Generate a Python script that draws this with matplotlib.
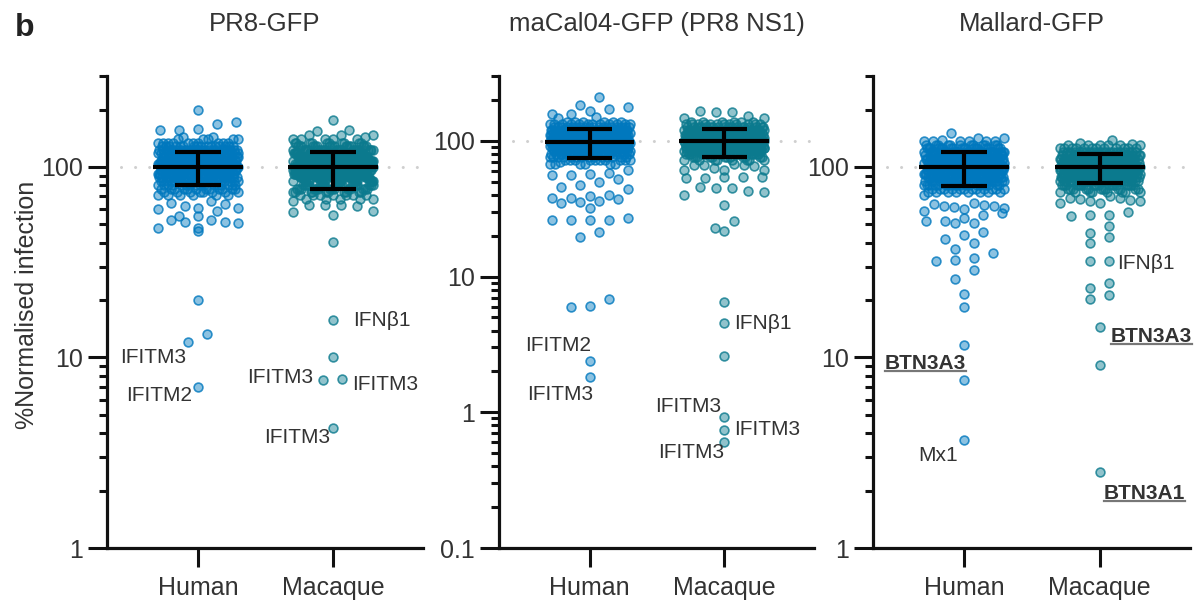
from math import gcd

import numpy as np
import matplotlib
matplotlib.use('Agg')
from matplotlib import pyplot as plt
from matplotlib.lines import Line2D
from matplotlib.ticker import FixedLocator, LogLocator, NullFormatter, FuncFormatter

plt.rcParams['font.family'] = ['Liberation Sans', 'DejaVu Sans']

species = ['Human', 'Macaque']
titles = ['PR8-GFP', 'maCal04-GFP (PR8 NS1)', 'Mallard-GFP']

# --- PR8-GFP screen: dense core as (level, count) plus the individually visible hits
pr8_human_levels = [140, 134, 128, 123, 118, 113, 108, 104, 100, 96, 92, 88, 84, 80, 77, 74, 71]
pr8_human_counts = [5, 10, 16, 22, 26, 30, 32, 34, 34, 32, 30, 26, 22, 16, 12, 8, 6]
pr8_human_tail = [198, 173, 168, 158, 156, 156, 144, 143, 66, 65, 64, 62, 61, 61, 60, 59,
                  55, 55, 52.5, 52.5, 51.5, 51.5, 51, 48, 48, 46, 20, 13.3, 12.0, 7.0]
pr8_macaque_levels = [140, 134, 128, 123, 118, 113, 108, 104, 100, 96, 92, 88, 84, 80, 77, 74, 71, 68]
pr8_macaque_counts = [5, 10, 16, 22, 26, 30, 32, 34, 34, 32, 30, 26, 22, 18, 14, 10, 7, 5]
pr8_macaque_tail = [176, 156, 154, 147, 147, 147, 144, 66, 63, 63, 63, 62, 59, 58, 56,
                    40.5, 15.7, 10.0, 7.7, 7.6, 4.25]
pr8_median = [100, 100]
pr8_lower = [80, 77]
pr8_upper = [120, 120]
pr8_label_group = [0, 0, 1, 1, 1, 1]
pr8_label_value = [12.0, 7.0, 15.7, 7.6, 7.7, 4.25]
pr8_label_gene = ['IFITM3', 'IFITM2', 'IFNβ1', 'IFITM3', 'IFITM3', 'IFITM3']

# --- maCal04-GFP (PR8 NS1) screen
macal_human_levels = [138, 132, 126, 120, 115, 110, 105, 100, 96, 92, 88, 84, 80, 76, 72, 68]
macal_human_counts = [6, 12, 18, 24, 28, 30, 32, 34, 32, 30, 26, 22, 18, 14, 10, 6]
macal_human_tail = [210, 183, 176, 171, 165, 157, 157, 150, 148, 70, 61, 58, 57, 56, 56, 52,
                    50, 47, 46, 44, 40, 39, 38, 38, 37.5, 36, 35.5, 35, 32, 27, 26, 26, 26,
                    26, 21.4, 19.4, 6.8, 6.1, 5.96, 2.37, 1.81]
macal_macaque_levels = [138, 132, 126, 120, 115, 110, 105, 100, 96, 92, 88, 84, 80, 76, 72]
macal_macaque_counts = [6, 12, 18, 24, 28, 30, 32, 34, 32, 30, 26, 22, 18, 12, 8]
macal_macaque_tail = [166, 162, 162, 152, 146, 146, 67, 66, 66, 66, 65, 63, 61, 61, 61, 54,
                      54, 54, 53.5, 53, 45.4, 45, 45, 43, 42, 40, 33.7, 25.7, 22.7, 21.8,
                      6.44, 4.54, 2.61, 0.93, 0.746, 0.60]
macal_median = [98, 99]
macal_lower = [75, 76]
macal_upper = [123, 123]
macal_label_group = [0, 0, 1, 1, 1, 1]
macal_label_value = [2.37, 1.81, 4.54, 0.93, 0.746, 0.60]
macal_label_gene = ['IFITM2', 'IFITM3', 'IFNβ1', 'IFITM3', 'IFITM3', 'IFITM3']

# --- Mallard-GFP screen
mallard_human_levels = [136, 130, 125, 120, 115, 110, 105, 100, 96, 92, 88, 84, 80, 77, 74]
mallard_human_counts = [6, 12, 18, 24, 28, 30, 32, 34, 32, 30, 26, 22, 18, 12, 8]
mallard_human_tail = [150, 142, 141, 139, 71, 65, 64, 63, 62, 62, 61.5, 61, 60, 58.5, 57, 56,
                      54, 52, 52, 51, 51, 45.4, 43.8, 42, 40, 37, 35.4, 33.3, 32.4, 32, 28.6,
                      25.8, 21.4, 18.4, 11.6, 7.6, 3.7]
mallard_macaque_levels = [130, 125, 120, 115, 110, 105, 100, 96, 92, 88, 84, 80, 77, 74]
mallard_macaque_counts = [6, 12, 20, 26, 30, 32, 34, 34, 32, 28, 24, 18, 12, 8]
mallard_macaque_tail = [138, 133, 132, 70, 69, 69, 68, 67, 66, 66, 65, 65, 58, 56, 56, 55,
                        49, 45, 43, 40, 32.2, 31.9, 24.6, 23.2, 21.3, 20.3, 14.5, 9.1, 2.52]
mallard_median = [100, 100]
mallard_lower = [79, 82]
mallard_upper = [120, 117]
mallard_label_group = [0, 0, 1, 1, 1]
mallard_label_value = [7.6, 3.7, 32.2, 14.5, 2.52]
mallard_label_gene = ['BTN3A3', 'Mx1', 'IFNβ1', 'BTN3A3', 'BTN3A1']

panels = [
    dict(groups=[(pr8_human_levels, pr8_human_counts, pr8_human_tail),
                 (pr8_macaque_levels, pr8_macaque_counts, pr8_macaque_tail)],
         median=pr8_median, lower=pr8_lower, upper=pr8_upper,
         lab_group=pr8_label_group, lab_value=pr8_label_value, lab_gene=pr8_label_gene,
         yticks=[1, 10, 100], ylim=(1, 300)),
    dict(groups=[(macal_human_levels, macal_human_counts, macal_human_tail),
                 (macal_macaque_levels, macal_macaque_counts, macal_macaque_tail)],
         median=macal_median, lower=macal_lower, upper=macal_upper,
         lab_group=macal_label_group, lab_value=macal_label_value, lab_gene=macal_label_gene,
         yticks=[0.1, 1, 10, 100], ylim=(0.1, 300)),
    dict(groups=[(mallard_human_levels, mallard_human_counts, mallard_human_tail),
                 (mallard_macaque_levels, mallard_macaque_counts, mallard_macaque_tail)],
         median=mallard_median, lower=mallard_lower, upper=mallard_upper,
         lab_group=mallard_label_group, lab_value=mallard_label_value, lab_gene=mallard_label_gene,
         yticks=[1, 10, 100], ylim=(1, 300)),
]

# label placement: (dx px, dy px, ha, bold+underline)
label_layout = [
    [(-2, -15, 'right', False), (-6, -9, 'right', False), (20, 0, 'left', False),
     (-10, 3, 'right', False), (10, -5, 'left', False), (-3, -9, 'right', False)],
    [(1, 16, 'right', False), (4, -17, 'right', False), (10, 0, 'left', False),
     (-3, 10, 'right', False), (10, 0, 'left', False), (0, -10, 'right', False)],
    [(2, 17, 'right', True), (-6, -16, 'right', False), (8, -3, 'left', False),
     (11, -10, 'left', True), (4, -22, 'left', True)],
]

colors = ['#0078be', '#0b7a8e']
text_col = '#333333'
axes_left = [107, 499, 873]
axes_width = [316, 315, 317]
W, H = 1195, 605
XLIM = (-0.674, 1.667)


def swarm_offsets(values, px_unit, px_decade, diam=9.0, step=19.0, half=40.0):
    """Prism-like row layout: points within one marker height share a row."""
    ypx = np.log10(values) * px_decade
    order = np.argsort(-ypx, kind='stable')
    rows, row = [], []
    for i in order:
        if row and ypx[row[0]] - ypx[i] > diam:
            rows.append(row)
            row = []
        row.append(i)
    rows.append(row)
    x = np.zeros(len(values))
    for row in rows:
        n = len(row)
        if n == 1:
            continue
        gap = min(step, 2 * half / (n - 1))
        slots = (np.arange(n) - (n - 1) / 2) * gap
        members = sorted(row, key=lambda i: values[i])
        if n > 5:
            k = max(1, int(round(n * 0.382)))
            while gcd(k, n) != 1:
                k += 1
            slots = slots[(np.arange(n) * k) % n]
        for i, s in zip(members, slots):
            x[i] = s / px_unit
    return x


fig = plt.figure(figsize=(W / 100, H / 100), dpi=100)
underlined = []

for p, panel in enumerate(panels):
    ax = fig.add_axes([axes_left[p] / W, 1 - 548 / H, axes_width[p] / W, 472 / H])
    ax.set_yscale('log')
    ax.set_ylim(*panel['ylim'])
    ax.set_xlim(*XLIM)
    px_unit = axes_width[p] / (XLIM[1] - XLIM[0])
    px_decade = 472 / np.log10(panel['ylim'][1] / panel['ylim'][0])

    ax.axhline(100, xmin=0.045, xmax=1.0, color='#cfcfcf', lw=2.2,
               linestyle=(0, (0.01, 4.6)), dash_capstyle='round', zorder=0)

    for g, (levels, counts, tail) in enumerate(panel['groups']):
        vals = np.concatenate([np.repeat(levels, counts), tail]).astype(float)
        xs = g + swarm_offsets(vals, px_unit, px_decade)
        base = matplotlib.colors.to_rgb(colors[g])
        ax.scatter(xs, vals, s=40, facecolors=[(*base, 0.45)], edgecolors=[(*base, 0.8)],
                   linewidths=1.2, zorder=2, clip_on=False)

        med, lo, hi = panel['median'][g], panel['lower'][g], panel['upper'][g]
        ax.hlines(med, g - 0.333, g + 0.333, color='black', lw=3, zorder=4)
        ax.hlines([lo, hi], g - 0.169, g + 0.169, color='black', lw=3, zorder=4)
        ax.vlines(g, lo, hi, color='black', lw=3, zorder=4)

        for j, (lg, lv, gene) in enumerate(zip(panel['lab_group'], panel['lab_value'],
                                               panel['lab_gene'])):
            if lg != g:
                continue
            idx = int(np.argmin(np.abs(vals - lv)))
            dx, dy, ha, bold = label_layout[p][j]
            t = ax.annotate(gene, xy=(xs[idx], vals[idx]), xytext=(dx * 0.72, dy * 0.72),
                            textcoords='offset points', ha=ha, va='center', fontsize=15,
                            color=text_col, fontweight='bold' if bold else 'normal', zorder=5)
            if bold:
                underlined.append(t)

    ax.spines['top'].set_visible(False)
    ax.spines['right'].set_visible(False)
    for side in ('left', 'bottom'):
        ax.spines[side].set_linewidth(2.3)
        ax.spines[side].set_color('#111111')

    ax.yaxis.set_major_locator(FixedLocator(panel['yticks']))
    ax.yaxis.set_major_formatter(FuncFormatter(lambda v, _: f'{v:g}'))
    ax.yaxis.set_minor_locator(LogLocator(base=10, subs=np.arange(2, 10), numticks=50))
    ax.yaxis.set_minor_formatter(NullFormatter())
    ax.tick_params(axis='y', which='major', length=13.5, width=2.2, pad=4,
                   labelsize=18, labelcolor=text_col, color='#111111')
    ax.tick_params(axis='y', which='minor', length=5.5, width=2.2, color='#111111')

    ax.set_xticks([0, 1])
    ax.set_xticklabels(species)
    ax.tick_params(axis='x', length=14, width=2.2, pad=6, labelsize=18,
                   labelcolor=text_col, color='#111111')

    ax.text(0.5, 1.11, titles[p], transform=ax.transAxes, ha='center', va='center',
            fontsize=18.5, color=text_col)

fig.text(27 / W, 1 - 305 / H, '%Normalised infection', rotation=90, ha='center',
         va='center', fontsize=18, color=text_col)
fig.text(15 / W, 1 - 36 / H, 'b', ha='left', va='baseline', fontsize=23,
         fontweight='bold', color='#222222')

# underline the bold gene names
fig.canvas.draw()
renderer = fig.canvas.get_renderer()
for t in underlined:
    bb = t.get_window_extent(renderer)
    y = (bb.y0 + 2) / H
    fig.add_artist(Line2D([bb.x0 / W, bb.x1 / W], [y, y], transform=fig.transFigure,
                          color='#777777', lw=1.6))

fig.savefig('out.png', dpi=100)
